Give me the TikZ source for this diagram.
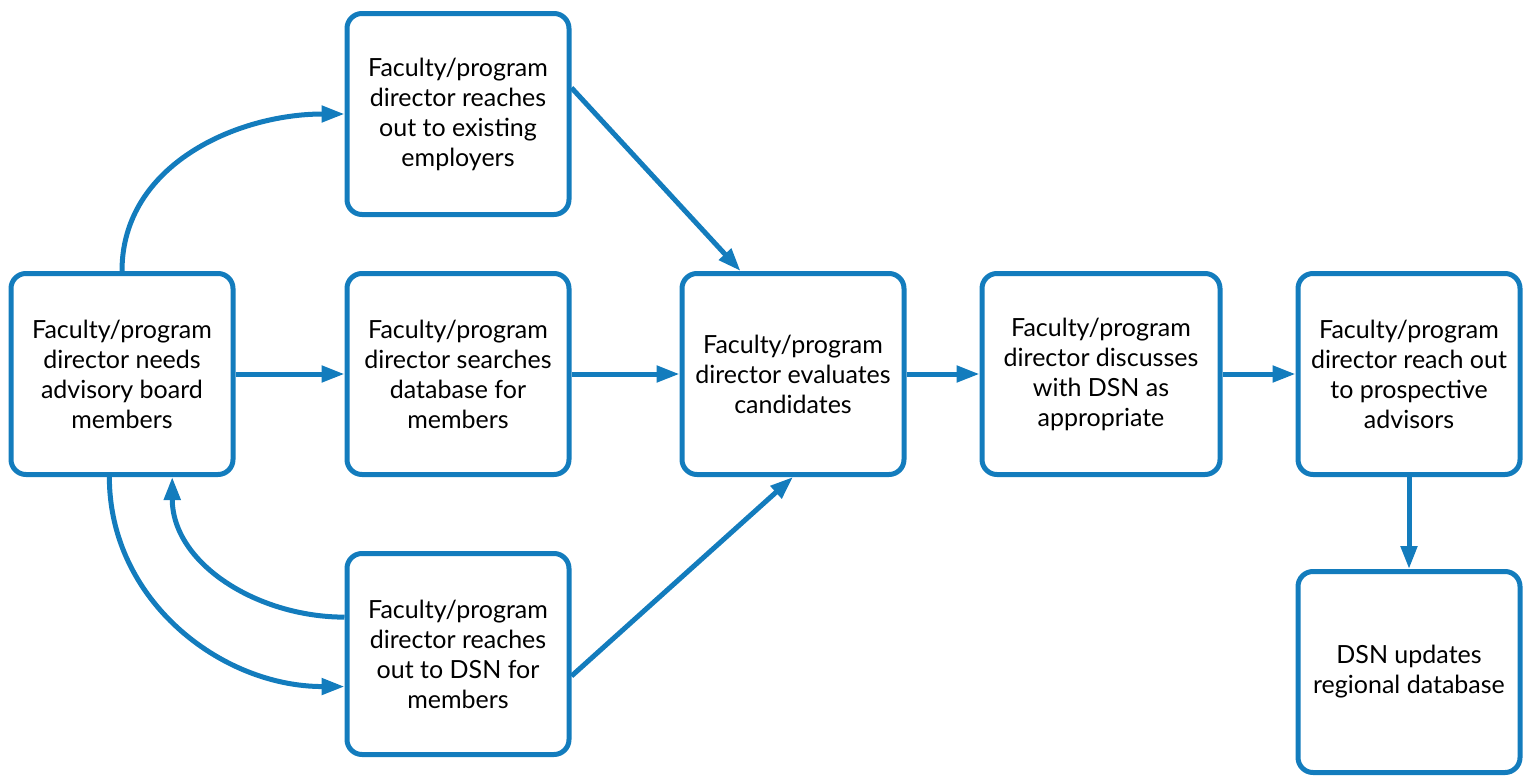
\documentclass[tikz,border=0pt]{standalone}
\usepackage{fontspec}
\setmainfont{Lato}
\usetikzlibrary{arrows.meta, positioning}
\definecolor{flowblue}{HTML}{137CBD}

\begin{document}
\begin{tikzpicture}[x=0.5pt,y=-0.5pt,
	box/.style={draw=flowblue,line width=2.5pt,rounded corners=7.5pt,fill=white,
		minimum width=111pt,minimum height=100.5pt,align=center,
		font=\fontsize{12.5pt}{15pt}\selectfont},
	flow/.style={every edge/.style={draw=flowblue,line width=2.5pt,
		-{Triangle[length=11.5pt,width=8pt]}}}]
	\useasboundingbox (0,0) rectangle (1526,777);
	\node[box] (needs)    at (122,374)  {Faculty/program\\director needs\\advisory board\\members};
	\node[box] (employers) at (458,114) {Faculty/program\\director reaches\\out to existing\\employers};
	\node[box] (search)   at (458,374)  {Faculty/program\\director searches\\database for\\members};
	\node[box] (dsnask)   at (458,654)  {Faculty/program\\director reaches\\out to DSN for\\members};
	\node[box] (evaluate) at (793,374)  {Faculty/program\\director evaluates\\candidates};
	\node[box,minimum width=119pt] (discuss) at (1101,374) {Faculty/program\\director discusses\\with DSN as\\appropriate};
	\node[box] (reach)    at (1409,374) {Faculty/program\\director reach out\\to prospective\\advisors};
	\node[box] (update)   at (1409,672) {DSN updates\\regional database};
	\path[flow]
	(needs.north) edge [out=90,in=180] (employers.west)
	(needs) edge (search)
	(search) edge (evaluate)
	(employers.13) edge (evaluate.117)
	(dsnask.-11) edge (evaluate.south)
	(evaluate) edge (discuss)
	(discuss) edge (reach)
	(reach) edge (update)
	(needs.263) edge [out=270,in=180] (dsnask.196)
	(dsnask.162) edge [out=180,in=270] (needs.-64)
	;
\end{tikzpicture}
\end{document}
